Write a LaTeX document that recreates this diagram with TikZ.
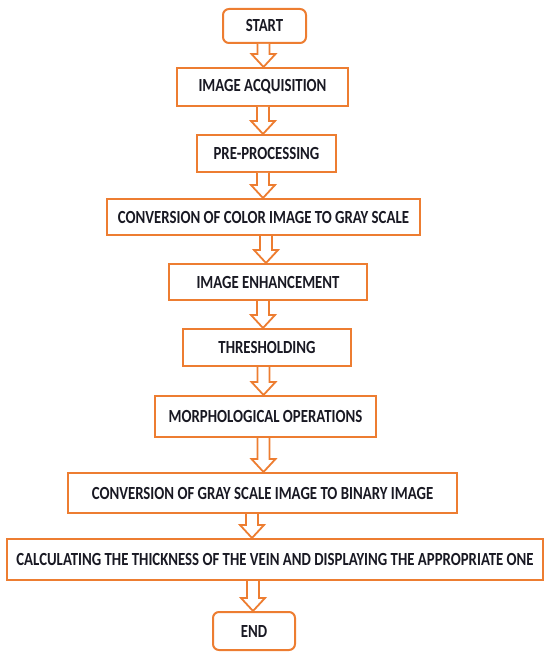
\documentclass[tikz,border=0pt]{standalone}
\usepackage{fontspec}
\setmainfont[FakeStretch=0.8]{Carlito}
\usetikzlibrary{calc,positioning}
\definecolor{boxorange}{RGB}{237,125,49}
\definecolor{boxtext}{RGB}{25,25,35}
\tikzset{
stepbox/.style={
  rectangle,
  draw=boxorange,
  line width=2pt,
  fill=white,
  text=boxtext,
  font=\fontsize{18.5}{22}\selectfont\bfseries,
  inner sep=0pt,
  align=center
  },
termbox/.style={
  stepbox,
  rounded corners=6pt
  },
hollow/.style={
  draw=boxorange,
  line width=1.8pt,
  fill=white,
  line join=miter
  }
}
% hollow block arrow from #2 down to #3, optional x shift #1
\newcommand\flowto[3][0pt]{%
  \draw[hollow] let \p1=(#2.south), \p2=(#3.north) in
    (\x1+#1-6pt,\y1) -- (\x1+#1-6pt,\y2+13pt) -- (\x1+#1-12pt,\y2+13pt)
    -- (\x1+#1,\y2) -- (\x1+#1+12pt,\y2+13pt) -- (\x1+#1+6pt,\y2+13pt)
    -- (\x1+#1+6pt,\y1);
}

\begin{document}
\begin{tikzpicture}[x=1pt,y=-1pt]
\useasboundingbox (0,0) rectangle (546,652);

\node[termbox,minimum width=83pt,minimum height=34pt] (start) at (264.5,26) {START};
\node[stepbox,minimum width=171pt,minimum height=38pt] (acq) at (262.5,87) {IMAGE ACQUISITION};
\node[stepbox,minimum width=139pt,minimum height=37pt] (pre) at (266.5,153.5) {PRE-PROCESSING};
\node[stepbox,minimum width=313pt,minimum height=36pt] (gray) at (263.5,217) {CONVERSION OF COLOR IMAGE TO GRAY SCALE};
\node[stepbox,minimum width=198pt,minimum height=36pt] (enh) at (268,282) {IMAGE ENHANCEMENT};
\node[stepbox,minimum width=168pt,minimum height=37pt] (thr) at (267,347.5) {THRESHOLDING};
\node[stepbox,minimum width=221pt,minimum height=41pt] (morph) at (265.5,416.5) {MORPHOLOGICAL OPERATIONS};
\node[stepbox,minimum width=389pt,minimum height=40pt] (bin) at (262.5,493) {CONVERSION OF GRAY SCALE IMAGE TO BINARY IMAGE};
\node[stepbox,minimum width=536pt,minimum height=41pt] (calc) at (275,559.5) {CALCULATING THE THICKNESS OF THE VEIN AND DISPLAYING THE APPROPRIATE ONE};
\node[termbox,minimum width=82pt,minimum height=38pt] (end) at (254,631) {END};

% arrows
\flowto[-1pt]{start}{acq}
\flowto[0.5pt]{acq}{pre}
\flowto[-3.5pt]{pre}{gray}
\flowto[2.5pt]{gray}{enh}
\flowto[-5pt]{enh}{thr}
\flowto[-3.5pt]{thr}{morph}
\flowto[-2pt]{morph}{bin}
\flowto[-10.5pt]{bin}{calc}
\flowto[-22pt]{calc}{end}

\end{tikzpicture}
\end{document}
